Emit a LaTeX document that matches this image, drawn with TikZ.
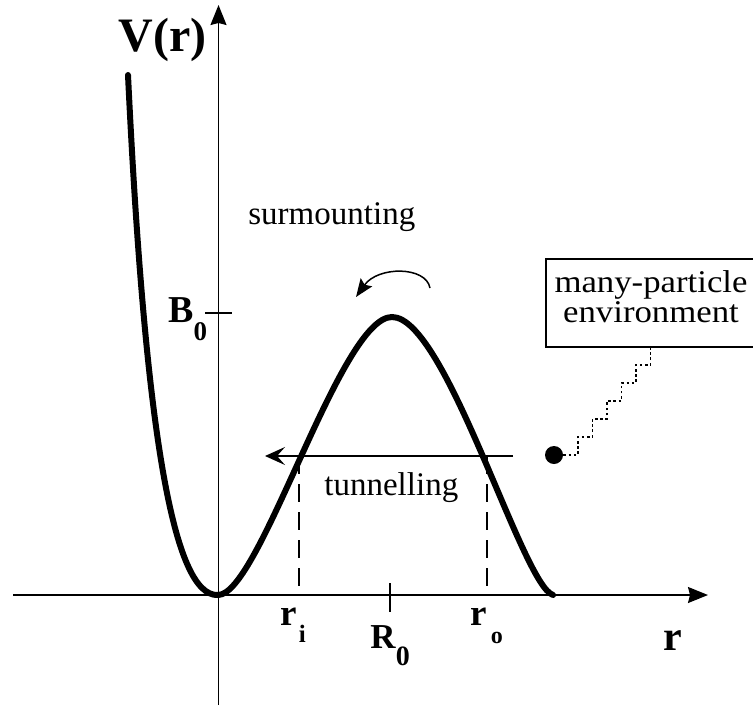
\documentclass[tikz,border=0pt]{standalone}
\usepackage{fontspec}
\setmainfont{Liberation Serif}
\newfontfamily\boxfont{Liberation Serif}[FakeStretch=1.1]
\usetikzlibrary{arrows.meta}
\begin{document}
\begin{tikzpicture}[x=0.5pt,y=-0.5pt,
  pot/.style={line width=3pt, line cap=round},
  axisline/.style={line width=0.75pt, -{Stealth[length=10pt,width=8pt,inset=1pt]}},
  guide/.style={line width=0.75pt},
  dashguide/.style={line width=0.75pt, dash pattern=on 9pt off 5pt},
  txt/.style={font=\fontsize{16.5}{18}\selectfont, inner sep=0pt, anchor=base west},
  lab/.style={inner sep=0pt, anchor=base west}]
\useasboundingbox (0,0) rectangle (753,706);
% axes
\coordinate (xa0) at (13,595);
\coordinate (xa1) at (708,595);
\coordinate (ya0) at (218.5,705);
\coordinate (ya1) at (218.5,5);
\draw[axisline] (xa0) -- (xa1);
\draw[axisline] (ya0) -- (ya1);
% potential curve
\draw[pot] (128,75) .. controls (145,430) and (173,597) .. (218,595)
  .. controls (260,595) and (340,317) .. (392,317)
  .. controls (446,317) and (522,585) .. (553,595);
% ticks
\coordinate (bt0) at (205,313); \coordinate (bt1) at (232,313);
\draw[guide] (bt0) -- (bt1);
\coordinate (rt0) at (390,583); \coordinate (rt1) at (390,612);
\draw[guide] (rt0) -- (rt1);
% dashed turning points
\coordinate (ri0) at (299,456); \coordinate (ri1) at (299,595);
\coordinate (ro0) at (487,456); \coordinate (ro1) at (487,595);
\draw[dashguide] (ri0) -- (ri1);
\draw[dashguide] (ro0) -- (ro1);
% tunnelling arrow
\coordinate (ta0) at (513,456); \coordinate (ta1) at (265,456);
\draw[line width=0.75pt, -{Stealth[length=10pt,width=9pt,inset=4pt]}] (ta0) -- (ta1);
% surmounting arrow
\coordinate (sa) at (430,288); \coordinate (sb) at (356,297);
\draw[line width=0.75pt, -{Stealth[length=9pt,width=7pt,inset=1.5pt]}] (sa) .. controls (426,266) and (378,266) .. (sb);
% texts
\node[txt] (surm) at (248,224) {surmounting};
\node[txt] (tunn) at (324,495) {tunnelling};
% labels
\node[lab] (V) at (118,52) {\fontsize{24}{24}\selectfont\textbf{V(r)}};
\node[lab] (B) at (168,322) {\fontsize{19}{19}\selectfont\textbf{B}\raisebox{-9pt}{\fontsize{13.5}{14}\selectfont\textbf{0}}};
\node[lab] (rI) at (280,625) {\fontsize{18.5}{19}\selectfont\textbf{r}\hspace{1pt}\raisebox{-8.5pt}{\fontsize{12.5}{13}\selectfont\textbf{i}}};
\node[lab] (R) at (370,648) {\fontsize{17.5}{18}\selectfont\textbf{R}\raisebox{-8.5pt}{\fontsize{14}{14}\selectfont\textbf{0}}};
\node[lab] (rO) at (470,625) {\fontsize{18.5}{19}\selectfont\textbf{r}\hspace{2pt}\raisebox{-9pt}{\fontsize{12}{12}\selectfont\textbf{o}}};
\node[lab] (r) at (663,650) {\fontsize{21}{21}\selectfont\textbf{r}};
% environment box
\node[draw, line width=0.6pt, minimum width=105pt, minimum height=44pt, inner sep=0pt, align=center,
  font=\boxfont\fontsize{15.8}{11.5}\selectfont] (env) at (651,303)
  {many-particle\\environment\rule[-6.5pt]{0pt}{6.5pt}};
\node[circle, fill, inner sep=0pt, minimum size=9pt] (dot) at (554,455) {};
\draw[line width=0.9pt, dash pattern=on 1.3pt off 1.3pt]
  (dot.east) -- ++(14.5,0) -- ++(0,-18) -- ++(14.5,0) -- ++(0,-18)
  -- ++(14.5,0) -- ++(0,-18) -- ++(14.5,0) -- ++(0,-18)
  -- ++(14.5,0) -- ++(0,-18) -- ++(14.5,0) |- (env.south);
\end{tikzpicture}
\end{document}
